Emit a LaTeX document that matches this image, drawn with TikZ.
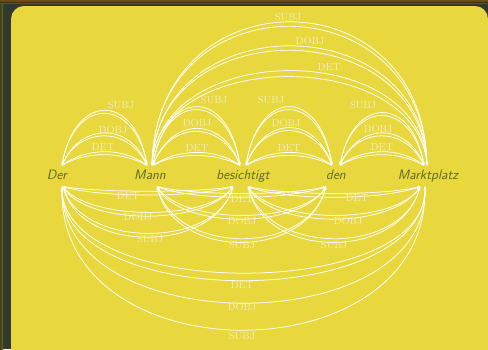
\documentclass[tikz,border=0pt]{standalone}
\usetikzlibrary{arrows.meta}
\definecolor{pane}{HTML}{E8D83D}
\definecolor{framec}{HTML}{303830}
\definecolor{wordc}{HTML}{5A6A2C}
\definecolor{lblc}{HTML}{F4EDC2}
\definecolor{edgec}{HTML}{6E4C12}
\definecolor{sidec}{HTML}{6B6A22}

% arc above two words: #1 arrow direction, #2 left node, #3 its x offset,
% #4 right node, #5 its x offset, #6 control height, #7 control x offset
\newcommand{\uparc}[7]{\draw[arc,#1] ([xshift=#3]#2.north) .. controls +(#7,-#6) and +(-#7,-#6) .. ([xshift=#5]#4.north);}
% same, below the words
\newcommand{\downarc}[7]{\draw[arc,#1] ([xshift=#3]#2.south) .. controls +(#7,#6) and +(-#7,#6) .. ([xshift=#5]#4.south);}

\begin{document}
\begin{tikzpicture}[x=1pt,y=-1pt,
  word/.style={font=\fontsize{13.6}{15}\selectfont\sffamily\itshape, text=wordc,
    inner xsep=0pt, inner ysep=4.5pt, text height=9pt, text depth=3pt, anchor=base},
  lbl/.style={font=\fontsize{10.4}{12}\selectfont, text=lblc, inner sep=0pt},
  arc/.style={draw=white, line width=0.75pt},
  fwd/.style={-{Stealth[length=3.2pt,width=2.8pt]}},
  bwd/.style={{Stealth[length=3.2pt,width=2.8pt]}-}]

\useasboundingbox (0,0) rectangle (488,349);
% frame and panel
\fill[framec] (0,0) rectangle (488,349);
\shade[left color=sidec!60!black, right color=sidec] (0,0) rectangle (3,349);
\fill[edgec] (0,0) rectangle (488,4);
\fill[edgec!60!black] (0,2) rectangle (488,3);
\fill[pane, rounded corners=13pt] (11,6) rectangle (488,365);

% words
\node[word] (Der) at (57,179) {Der};
\node[word] (Mann) at (150,179) {Mann};
\node[word] (Bes) at (243,179) {besichtigt};
\node[word] (Den) at (336,179) {den};
\node[word] (Markt) at (428,179) {Marktplatz};

% arcs above: Der -- Mann
\uparc{fwd}{Der}{5}{Mann}{-3}{18}{25}
\uparc{bwd}{Der}{5}{Mann}{-3}{14}{25}
\uparc{fwd}{Der}{5}{Mann}{-3}{43}{18}
\uparc{bwd}{Der}{5}{Mann}{-3}{39}{18}
\uparc{fwd}{Der}{5}{Mann}{-3}{73}{12}
\uparc{bwd}{Der}{5}{Mann}{-3}{69}{12}
% Mann -- besichtigt
\uparc{fwd}{Mann}{3}{Bes}{-3}{17}{25}
\uparc{bwd}{Mann}{3}{Bes}{-3}{13}{25}
\uparc{fwd}{Mann}{3}{Bes}{-3}{49}{18}
\uparc{bwd}{Mann}{3}{Bes}{-3}{45}{18}
\uparc{fwd}{Mann}{3}{Bes}{-3}{78}{12}
\uparc{bwd}{Mann}{3}{Bes}{-3}{74}{12}
% besichtigt -- den
\uparc{fwd}{Bes}{3}{Den}{-4}{17}{25}
\uparc{bwd}{Bes}{3}{Den}{-4}{13}{25}
\uparc{fwd}{Bes}{3}{Den}{-4}{50}{18}
\uparc{bwd}{Bes}{3}{Den}{-4}{46}{18}
\uparc{fwd}{Bes}{3}{Den}{-4}{78}{12}
\uparc{bwd}{Bes}{3}{Den}{-4}{74}{12}
% den -- Marktplatz
\uparc{fwd}{Den}{4}{Markt}{-4}{18}{25}
\uparc{bwd}{Den}{4}{Markt}{-4}{14}{25}
\uparc{fwd}{Den}{4}{Markt}{-4}{43}{18}
\uparc{bwd}{Den}{4}{Markt}{-4}{39}{18}
\uparc{fwd}{Den}{4}{Markt}{-4}{70}{12}
\uparc{bwd}{Den}{4}{Markt}{-4}{66}{12}
% Mann -- Marktplatz
\uparc{fwd}{Mann}{2}{Markt}{-1}{126}{8}
\uparc{bwd}{Mann}{2}{Markt}{-1}{118}{8}
\uparc{fwd}{Mann}{2}{Markt}{-1}{159}{6}
\uparc{bwd}{Mann}{2}{Markt}{-1}{153}{6}
\uparc{fwd}{Mann}{2}{Markt}{-1}{191}{4}
\uparc{bwd}{Mann}{2}{Markt}{-1}{185}{4}

% arcs below: Der -- besichtigt
\downarc{fwd}{Der}{6}{Bes}{-10}{6}{40}
\downarc{bwd}{Der}{6}{Bes}{-10}{11}{40}
\downarc{fwd}{Der}{6}{Bes}{-10}{34}{25}
\downarc{bwd}{Der}{6}{Bes}{-10}{39}{25}
\downarc{fwd}{Der}{6}{Bes}{-10}{62}{18}
\downarc{bwd}{Der}{6}{Bes}{-10}{67}{18}
% Mann -- den
\downarc{fwd}{Mann}{7}{Den}{-10}{9}{40}
\downarc{bwd}{Mann}{7}{Den}{-10}{14}{40}
\downarc{fwd}{Mann}{7}{Den}{-10}{38}{25}
\downarc{bwd}{Mann}{7}{Den}{-10}{43}{25}
\downarc{fwd}{Mann}{7}{Den}{-10}{69}{18}
\downarc{bwd}{Mann}{7}{Den}{-10}{74}{18}
% besichtigt -- Marktplatz
\downarc{fwd}{Bes}{5}{Markt}{-8}{9}{40}
\downarc{bwd}{Bes}{5}{Markt}{-8}{14}{40}
\downarc{fwd}{Bes}{5}{Markt}{-8}{38}{25}
\downarc{bwd}{Bes}{5}{Markt}{-8}{43}{25}
\downarc{fwd}{Bes}{5}{Markt}{-8}{69}{18}
\downarc{bwd}{Bes}{5}{Markt}{-8}{74}{18}
% Der -- Marktplatz
\downarc{fwd}{Der}{5}{Markt}{-3}{115}{-3}
\downarc{bwd}{Der}{5}{Markt}{-3}{125}{-3}
\downarc{fwd}{Der}{5}{Markt}{-3}{155}{-4}
\downarc{bwd}{Der}{5}{Markt}{-3}{191}{-5}

% relation labels above
\node[lbl] (l1) at (121,105) {SUBJ};
\node[lbl] (l2) at (113,130) {DOBJ};
\node[lbl] (l3) at (103,147) {DET};
\node[lbl] (l4) at (214,100) {SUBJ};
\node[lbl] (l5) at (197,123) {DOBJ};
\node[lbl] (l6) at (197,148) {DET};
\node[lbl] (l7) at (271,100) {SUBJ};
\node[lbl] (l8) at (286,123) {DOBJ};
\node[lbl] (l9) at (289,148) {DET};
\node[lbl] (l10) at (363,105) {SUBJ};
\node[lbl] (l11) at (378,129) {DOBJ};
\node[lbl] (l12) at (382,147) {DET};
\node[lbl] (l13) at (288,17) {SUBJ};
\node[lbl] (l14) at (310,41) {DOBJ};
\node[lbl] (l15) at (329,67) {DET};
% relation labels below
\node[lbl] (l16) at (128,196) {DET};
\node[lbl] (l17) at (138,217) {DOBJ};
\node[lbl] (l18) at (150,239) {SUBJ};
\node[lbl] (l19) at (242,199) {DET};
\node[lbl] (l20) at (242,221) {DOBJ};
\node[lbl] (l21) at (242,245) {SUBJ};
\node[lbl] (l22) at (357,198) {DET};
\node[lbl] (l23) at (348,221) {DOBJ};
\node[lbl] (l24) at (334,245) {SUBJ};
\node[lbl] (l25) at (242,285) {DET};
\node[lbl] (l26) at (242,307) {DOBJ};
\node[lbl] (l27) at (242,336) {SUBJ};
\end{tikzpicture}
\end{document}
